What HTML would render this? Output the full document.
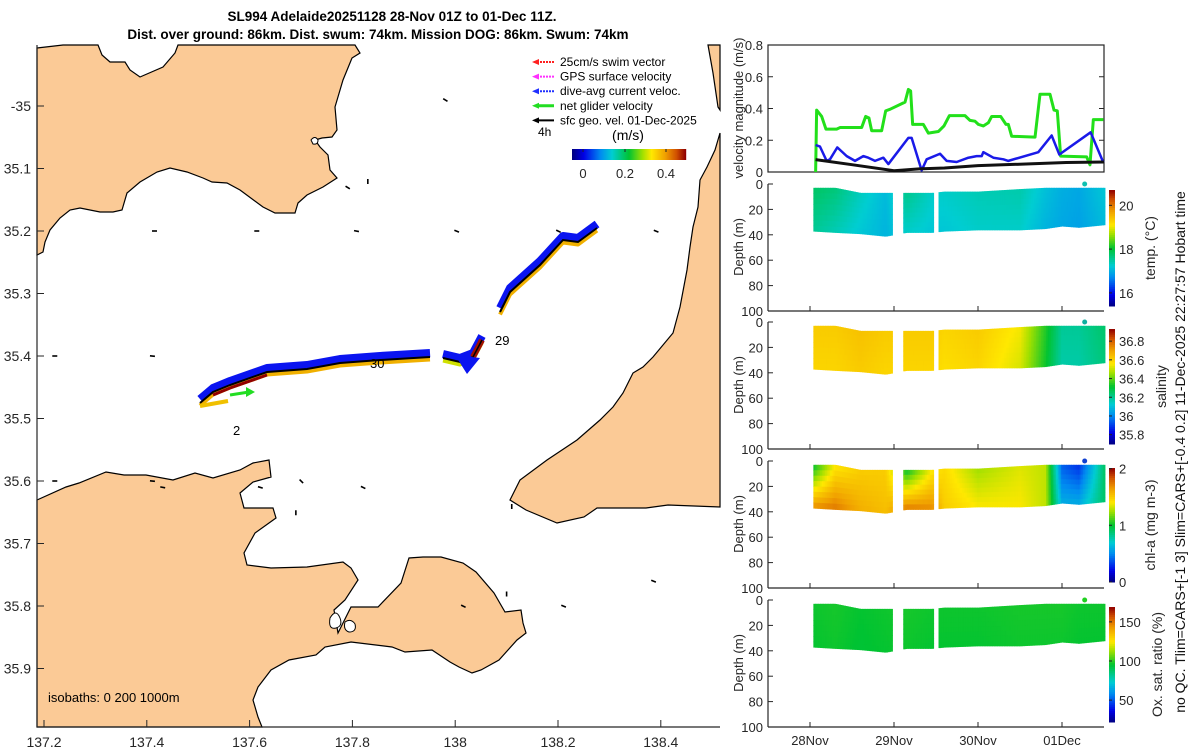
<!DOCTYPE html>
<html><head><meta charset="utf-8"><style>
body{margin:0;background:#fff;}
svg{display:block;font-family:"Liberation Sans",sans-serif;}
</style></head><body>
<svg id="fig" width="1200" height="750" xmlns="http://www.w3.org/2000/svg">
<g font-weight="bold" font-size="13.5" fill="#000" text-anchor="middle">
<text x="392" y="21">SL994 Adelaide20251128 28-Nov 01Z to 01-Dec 11Z.</text>
<text x="378" y="39">Dist. over ground: 86km. Dist. swum: 74km. Mission DOG: 86km. Swum: 74km</text>
</g>
<g id="map"></g>
<g id="right"></g>
</svg>
<script>
// ---------- velocity panel data ----------
const greenDays=[0.067,0.079,0.139,0.190,0.317,0.357,0.615,0.663,0.702,0.734,0.853,0.901,0.952,1.131,1.171,1.198,1.222,1.349,1.409,1.528,1.595,1.659,1.845,1.905,1.964,2.004,2.063,2.123,2.163,2.270,2.333,2.361,2.401,2.679,2.738,2.857,2.905,2.944,2.984,3.294,3.333,3.373,3.492];
const greenVals=[0,0.39,0.35,0.27,0.27,0.28,0.28,0.35,0.34,0.26,0.26,0.385,0.395,0.44,0.52,0.51,0.30,0.30,0.245,0.255,0.29,0.355,0.355,0.325,0.32,0.30,0.29,0.31,0.35,0.35,0.30,0.30,0.225,0.22,0.49,0.49,0.39,0.385,0.10,0.095,0.045,0.33,0.33];
const blueDays=[0.067,0.119,0.198,0.238,0.325,0.437,0.536,0.635,0.694,0.774,0.873,0.933,1.171,1.210,1.329,1.389,1.548,1.627,1.746,1.885,1.984,2.044,2.063,2.183,2.302,2.361,2.718,2.877,2.968,3.341,3.492];
const blueVals=[0.17,0.16,0.07,0.08,0.155,0.10,0.07,0.10,0.09,0.07,0.09,0.05,0.215,0.215,0.01,0.08,0.115,0.07,0.063,0.09,0.10,0.10,0.125,0.09,0.08,0.07,0.125,0.23,0.11,0.25,0.06];
const blackDays=[0.067,0.5,1.0,1.3,1.6,2.0,2.65,3.05,3.5];
const blackVals=[0.078,0.046,0.008,0.02,0.025,0.04,0.052,0.06,0.063];
const velTicks=[0,0.2,0.4,0.6,0.8];
const dateTicks=[0,1,2,3];
const dateLabels=["28Nov","29Nov","30Nov","01Dec"];
// ---------- profile data ----------
const secStart=[0.04,1.11,1.53];
const secEnd=[0.97,1.47,3.5];
const profTimes=[0.05,0.3,0.6,0.9,1.15,1.45,1.6,2.0,2.5,2.8,3.0,3.2,3.5];
const topDepth=[3,3,7,7,7,7,6,6,4,3,3,3,3];
const botDepth=[37,38,39,41,38,38,37,36,36,35,33,34,32];
const tempUp=[17.8,17.7,17.35,17.1,17.6,17.3,17.3,17.4,17.45,17.15,17.0,16.95,17.2];
const tempLo=[17.55,17.4,17.2,17.05,17.3,17.2,17.2,17.3,17.3,17.05,16.95,16.9,17.1];
const salUp=[36.62,36.62,36.64,36.62,36.62,36.62,36.6,36.62,36.55,36.35,36.2,36.2,36.25];
const salLo=[36.6,36.6,36.62,36.6,36.6,36.6,36.58,36.6,36.52,36.33,36.18,36.18,36.23];
const chlUp=[1.0,1.4,1.5,1.5,1.0,1.4,1.45,1.25,1.35,1.3,0.4,0.3,0.9];
const chlLo=[1.7,1.75,1.6,1.55,1.75,1.7,1.5,1.4,1.4,1.3,0.6,0.6,0.9];
const oxUp=[97,98,96,97,98,97,97,97,98,98,98,97,97];
const oxLo=[96,97,95,96,97,96,96,96,97,97,97,96,96];
const tempTicks=[16,18,20], salTicks=[35.8,36,36.2,36.4,36.6,36.8], chlTicks=[0,1,2], oxTicks=[50,100,150];
const depthTicks=[0,20,40,60,80,100];
// ---------- map data ----------
const lonTicks=[137.2,137.4,137.6,137.8,138,138.2,138.4];
const latTicks=[35,35.1,35.2,35.3,35.4,35.5,35.6,35.7,35.8,35.9];
const trackALon=[137.5035,137.5288,137.5619,137.6339,137.7117,137.7759,137.8537,137.951];
const trackALat=[35.4752,35.4576,35.4464,35.4256,35.4208,35.4112,35.4064,35.4016];
const trackRLon=[137.5035,137.558];
const trackRLat=[35.4752,35.4672];
const trackBLon=[137.9763,138.0093,138.0346,138.0521];
const trackBLat=[35.4032,35.4096,35.4016,35.3744];
const trackCLon=[138.0872,138.1066,138.165,138.2097,138.2389,138.2759];
const trackCLat=[35.3296,35.2976,35.2544,35.2144,35.2176,35.1952];
const geoLon=[137.98,137.83,137.79,137.414,137.613,137.807,138.002,138.200,138.390,137.02,137.22,137.41,137.995,137.22,137.41,137.43,137.62,137.82,138.015,138.21,138.385,138.10,138.11,137.69,137.70];
const geoLat=[34.99,35.12,35.13,35.20,35.20,35.20,35.20,35.20,35.20,35.40,35.40,35.40,35.40,35.60,35.60,35.61,35.61,35.61,35.80,35.80,35.76,35.78,35.64,35.65,35.60];
const geoU=[1,0,0.5,1,1,1,1,1,1,1,1,1,0,1,1,1,1,1,1,1,1,0,0,0,0.3];
const geoV=[0.6,1,0.3,0,0,0.2,0.4,0.5,0.4,0,0,0.1,0,0,0.1,0.2,0.3,0.5,0.5,0.4,0.4,1,1,1,0.3];

const NS="http://www.w3.org/2000/svg";
function mk(parent,tag,attrs){const e=document.createElementNS(NS,tag);for(const k in attrs)e.setAttribute(k,attrs[k]);parent.appendChild(e);return e;}
function txt(parent,x,y,s,attrs){const t=mk(parent,"text",Object.assign({x:x,y:y},attrs||{}));t.textContent=s;return t;}
const stops=[[0,[0,0,128]],[0.1,[0,0,230]],[0.25,[0,140,240]],[0.35,[0,205,210]],[0.5,[0,195,50]],[0.62,[160,224,0]],[0.7,[255,232,0]],[0.82,[240,160,0]],[0.92,[208,80,0]],[1,[144,0,0]]];
function cmap(t){t=Math.max(0,Math.min(1,t));for(let i=1;i<stops.length;i++){if(t<=stops[i][0]){const a=stops[i-1],b=stops[i];const f=(t-a[0])/(b[0]-a[0]);const c=a[1].map((v,j)=>Math.round(v+(b[1][j]-v)*f));return`rgb(${c[0]},${c[1]},${c[2]})`;}}return"rgb(144,0,0)";}
function interp(xs,ys,x){if(x<=xs[0])return ys[0];for(let i=1;i<xs.length;i++){if(x<=xs[i]){const f=(x-xs[i-1])/(xs[i]-xs[i-1]);return ys[i-1]+(ys[i]-ys[i-1])*f;}}return ys[ys.length-1];}

// ================= MAP =================
const map=document.getElementById("map");
const lonX=l=>44+(l-137.2)*514;
const latY=l=>106+(l-35)*625;
const land="#fbca96";
function poly(pts,name){const p=mk(map,"polygon",{points:pts,fill:land,stroke:"#000","stroke-width":1.2});}
poly("37,48 63,45 98,45 102,55 110,62 125,62 130,70 140,77 163,67 175,53 178,45 355,45 360,53 352,58 343,80 335,107 337,130 332,137 322,138 315,140 320,147 328,155 330,170 337,178 323,187 307,195 298,203 295,213 275,213 263,207 240,190 227,183 212,182 203,178 187,172 170,168 157,172 140,182 127,193 122,210 113,212 100,212 80,208 70,210 60,218 50,230 45,242 43,252 37,255","north-land");
poly("37,500 66,487 79,483 106,472 124,475 146,475 173,480 195,473 213,478 240,470 253,463 269,460 271,477 253,482 240,493 244,508 273,508 276,518 255,533 244,553 247,565 271,568 307,567 343,562 351,568 358,580 345,600 334,610 338,633 351,607 378,607 401,583 409,558 423,557 441,557 463,563 476,572 494,593 505,612 521,610 523,623 526,633 517,640 499,660 481,670 472,673 459,667 450,662 432,650 405,652 392,647 351,642 325,647 316,655 289,660 271,670 258,687 253,700 258,717 262,727 37,727","south-land");
poly("720,133 715,150 707,167 700,180 698,207 693,227 690,247 687,270 680,307 673,333 653,357 643,367 633,373 623,393 613,407 600,420 577,440 547,460 520,480 510,500 526,510 557,523 584,517 597,508 646,508 668,505 720,507","east-land");
poly("708,45 713,73 718,107 720,110 720,45","northeast-land");
mk(map,"path",{d:"M330,618 q6,-10 10,0 q3,8 -4,10 q-8,2 -6,-10z M345,622 q6,-4 10,2 q2,8 -6,8 q-6,-2 -4,-10z",fill:"#fff",stroke:"#000","stroke-width":1,});
mk(map,"path",{d:"M311,140 q4,-5 7,0 q0,5 -5,4z",fill:"#fff",stroke:"#000","stroke-width":1,});
mk(map,"line",{x1:37,y1:45,x2:37,y2:727,stroke:"#262626","stroke-width":1.2,});
mk(map,"line",{x1:37,y1:727,x2:720,y2:727,stroke:"#262626","stroke-width":1.2,});
lonTicks.forEach(l=>{const x=lonX(l);
 const t=mk(map,"line",{x1:x,y1:727,x2:x,y2:720,stroke:"#262626"});
 const s=txt(map,x,747,String(l),{"font-size":14,"text-anchor":"middle",fill:"#262626"});});
latTicks.forEach(l=>{const y=latY(l);
 const t=mk(map,"line",{x1:37,y1:y,x2:44,y2:y,stroke:"#262626"});
 const s=txt(map,31,y+5,l===35?"-35":String(l),{"font-size":14,"text-anchor":"end",fill:"#262626"});});
geoLon.forEach((l,i)=>{const x=lonX(l),y=latY(geoLat[i]);const dx=geoU[i],dy=geoV[i];const n=Math.hypot(dx,dy)||1;
 const a=mk(map,"line",{x1:x-2*dx/n,y1:y-2*dy/n,x2:x+3*dx/n,y2:y+3*dy/n,stroke:"#000","stroke-width":1.6});
 });
function pts(lo,la,dy){return lo.map((l,i)=>lonX(l)+","+(latY(la[i])+dy)).join(" ");}
[[trackALon,trackALat],[trackBLon,trackBLat],[trackCLon,trackCLat]].forEach((tr,k)=>{
 const b=mk(map,"polyline",{points:pts(tr[0],tr[1],-4),fill:"none",stroke:"#0a14f0","stroke-width":8,"stroke-linejoin":"round"});
 const c=mk(map,"polyline",{points:pts(tr[0],tr[1],2.5),fill:"none",stroke:k===1?"#d0e000":"#f0b000","stroke-width":4,"stroke-linejoin":"round"});
 const d=mk(map,"polyline",{points:pts(tr[0],tr[1],0),fill:"none",stroke:"#000","stroke-width":2});});
{const r=mk(map,"polyline",{points:pts(trackRLon,trackRLat,3),fill:"none",stroke:"#f0c000","stroke-width":4});}
{const rr=mk(map,"polyline",{points:pts(trackALon.slice(1,4),trackALat.slice(1,4),3),fill:"none",stroke:"#900000","stroke-width":3});}
{const rb=mk(map,"polyline",{points:pts(trackBLon.slice(2),trackBLat.slice(2),0),fill:"none",stroke:"#a01000","stroke-width":6});
 const bk=mk(map,"polyline",{points:pts(trackBLon.slice(2),trackBLat.slice(2),0),fill:"none",stroke:"#000","stroke-width":1.5});}
mk(map,"polygon",{points:"455,355 480,358 467,374",fill:"#0a14f0",});
{const x1=lonX(137.5619),y1=latY(35.4624),x2=lonX(137.6105),y2=latY(35.4576);
 mk(map,"line",{x1:x1,y1:y1,x2:x2-6,y2:y2,stroke:"#22dd22","stroke-width":3,});
 mk(map,"polygon",{points:`${x2},${y2} ${x2-9},${y2-5} ${x2-9},${y2+5}`,fill:"#22dd22",});}
txt(map,495,345,"29",{"font-size":13,fill:"#000",});
txt(map,370,368,"30",{"font-size":13,fill:"#000",});
txt(map,233,435,"2",{"font-size":13,fill:"#000",});
txt(map,48,702,"isobaths: 0   200  1000m",{"font-size":13,fill:"#000","xml:space":"preserve",});
const leg=[["25cm/s swim vector","#ff2020"],["GPS surface velocity","#ff30ff"],["dive-avg current veloc.","#2030ff"],["net glider velocity","#22dd22"],["sfc geo. vel. 01-Dec-2025","#000"]];
leg.forEach((e,i)=>{const y=62+i*14.6;
 const g=mk(map,"g",{});
 mk(g,"line",{x1:537,y1:y,x2:554,y2:y,stroke:e[1],"stroke-width":i===3?3:2,"stroke-dasharray":i<3?"2,1":"none"});
 mk(g,"polygon",{points:`532,${y} 539,${y-3} 539,${y+3}`,fill:e[1]});
 txt(g,560,y+4,e[0],{"font-size":12,fill:"#000"});});
txt(map,538,136,"4h",{"font-size":12,fill:"#000",});
txt(map,628,140,"(m/s)",{"font-size":14,"text-anchor":"middle",fill:"#000",});
{const g=mk(map,"g",{});
 for(let i=0;i<114;i++)mk(g,"rect",{x:572+i,y:149,width:1.2,height:11,fill:cmap(i/113)});
 [[0,583],[0.2,625],[0.4,666]].forEach(v=>{txt(g,v[1],178,String(v[0]),{"font-size":13,"text-anchor":"middle",fill:"#262626"});mk(g,"line",{x1:v[1],y1:149,x2:v[1],y2:152,stroke:"#222"});});}

// ================= RIGHT PANELS =================
const R=document.getElementById("right");
const X0=768,X1=1104;
const xT=d=>810+84*d;
const yV=v=>172-v*158.75;
mk(R,"rect",{x:X0,y:45,width:X1-X0,height:127,fill:"none",stroke:"#262626","stroke-width":1.2,});
velTicks.forEach(v=>{const y=yV(v);
 const a=mk(R,"line",{x1:X0,y1:y,x2:X0+5,y2:y,stroke:"#262626"});
 const b=mk(R,"line",{x1:X1-5,y1:y,x2:X1,y2:y,stroke:"#262626"});
 const s=txt(R,763,y+5,String(v),{"font-size":13,"text-anchor":"end",fill:"#262626"});});
txt(R,0,0,"velocity magnitude (m/s)",{"font-size":13,"text-anchor":"middle",fill:"#262626",transform:"translate(743,108) rotate(-90)",});
function line(days,vals,col,w,name){const p=mk(R,"polyline",{points:days.map((d,i)=>xT(d)+","+yV(vals[i])).join(" "),fill:"none",stroke:col,"stroke-width":w,"stroke-linejoin":"round"});}
line(greenDays,greenVals,"#22e01a",3,"net-glider-velocity-line");
line(blueDays,blueVals,"#1a1ae8",2.5,"dive-avg-current-line");
line(blackDays,blackVals,"#111",3,"geo-velocity-line");
const panels=[
 {top:184,up:tempUp,lo:tempLo,vmin:15.4,vmax:20.7,ticks:tempTicks,cbTop:190,cbBot:306,label:"temp. (°C)",lx:1155,name:"temperature"},
 {top:322,up:salUp,lo:salLo,vmin:35.7,vmax:36.93,ticks:salTicks,cbTop:329,cbBot:444,label:"salinity",lx:1166,name:"salinity"},
 {top:461,up:chlUp,lo:chlLo,vmin:0,vmax:2.01,ticks:chlTicks,cbTop:468,cbBot:582,label:"chl-a (mg m-3)",lx:1155,name:"chl-a"},
 {top:600,up:oxUp,lo:oxLo,vmin:22,vmax:169,ticks:oxTicks,cbTop:607,cbBot:722,label:"Ox. sat. ratio (%)",lx:1162,name:"oxygen"}];
const dotColors=["#10c0b0","#10b0a0","#1040d0","#20d020"];
panels.forEach((P,pi)=>{
 const g=mk(R,"g",{});
 const yD=d=>P.top+d*1.27;
 const norm=v=>(v-P.vmin)/(P.vmax-P.vmin);
 for(let s=0;s<secStart.length;s++){
  for(let d=secStart[s];d<secEnd[s];d+=0.02){
   const tc=d+0.01;const td=interp(profTimes,topDepth,tc),bd=interp(profTimes,botDepth,tc);
   const u=interp(profTimes,P.up,tc),l=interp(profTimes,P.lo,tc);
   const rows=8;
   for(let r=0;r<rows;r++){const f=(r+0.5)/rows;const v=u+(l-u)*f;
    const ya=yD(td+(bd-td)*r/rows),yb=yD(td+(bd-td)*(r+1)/rows);
    const c=mk(g,"rect",{x:xT(d),y:ya,width:84*0.02+0.6,height:yb-ya+0.6,fill:cmap(norm(v))});
    }
  }}
 mk(g,"circle",{cx:xT(3.27),cy:P.top,r:2.5,fill:dotColors[pi],});
 mk(g,"line",{x1:X0,y1:P.top,x2:X0,y2:P.top+127,stroke:"#262626","stroke-width":1.2,});
 mk(g,"line",{x1:X0,y1:P.top+127,x2:X1,y2:P.top+127,stroke:"#262626","stroke-width":1.2,});
 depthTicks.forEach(v=>{const y=yD(v);
  const t=mk(g,"line",{x1:X0,y1:y,x2:X0+5,y2:y,stroke:"#262626"});
  const s=txt(g,763,y+5,String(v),{"font-size":13,"text-anchor":"end",fill:"#262626"});});
 dateTicks.forEach(d=>{const x=xT(d);const t=mk(g,"line",{x1:x,y1:P.top+127,x2:x,y2:P.top+122,stroke:"#262626"});});
 txt(g,0,0,"Depth (m)",{"font-size":13,"text-anchor":"middle",fill:"#262626",transform:`translate(743,${P.top+63}) rotate(-90)`,});
 const cb=mk(g,"g",{});
 const n=60;for(let i=0;i<n;i++){const y=P.cbBot-(i+1)*(P.cbBot-P.cbTop)/n;mk(cb,"rect",{x:1109,y:y,width:6,height:(P.cbBot-P.cbTop)/n+0.5,fill:cmap((i+0.5)/n)});}
 P.ticks.forEach(v=>{const y=P.cbBot-norm(v)*(P.cbBot-P.cbTop);
  mk(cb,"line",{x1:1109,y1:y,x2:1112,y2:y,stroke:"#222"});
  const s=txt(cb,1119,y+5,String(v),{"font-size":13,fill:"#262626"});});
 txt(g,0,0,P.label,{"font-size":14,"text-anchor":"middle",fill:"#262626",transform:`translate(${P.lx},${(P.cbTop+P.cbBot)/2}) rotate(-90)`,});
});
dateTicks.forEach((d,i)=>{const s=txt(R,xT(d),745,dateLabels[i],{"font-size":13,"text-anchor":"middle",fill:"#262626"});});
txt(R,0,0,"no QC. Tlim=CARS+[-1 3] Slim=CARS+[-0.4 0.2] 11-Dec-2025 22:27:57 Hobart time",{"font-size":14,"text-anchor":"middle",fill:"#111",transform:"translate(1185,452) rotate(-90)",});
</script>
</body></html>
